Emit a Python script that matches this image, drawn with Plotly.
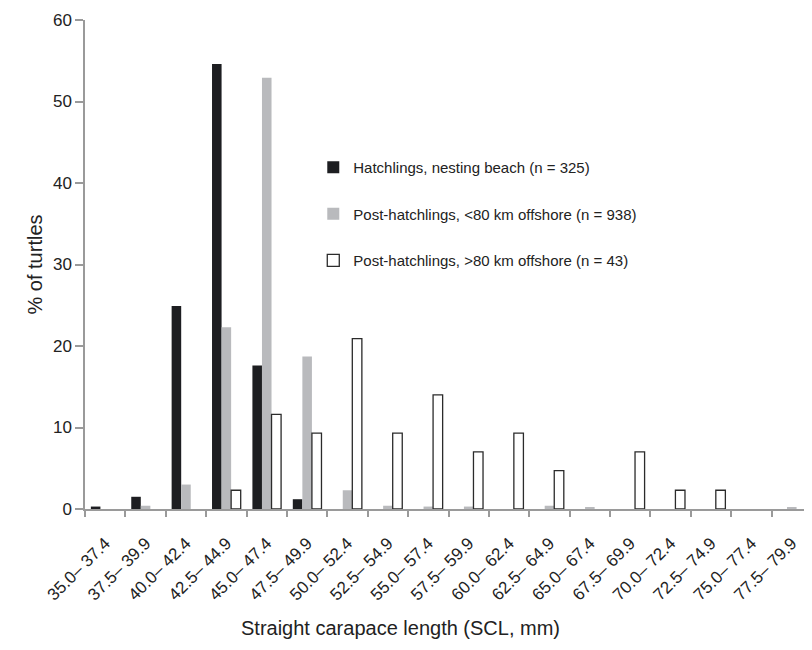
import plotly.graph_objects as go

categories = ["35.0– 37.4", "37.5– 39.9", "40.0– 42.4", "42.5– 44.9", "45.0– 47.4",
              "47.5– 49.9", "50.0– 52.4", "52.5– 54.9", "55.0– 57.4", "57.5– 59.9",
              "60.0– 62.4", "62.5– 64.9", "65.0– 67.4", "67.5– 69.9", "70.0– 72.4",
              "72.5– 74.9", "75.0– 77.4", "77.5– 79.9"]
hatchlings = [0.3, 1.5, 24.9, 54.6, 17.6, 1.2, 0, 0, 0, 0, 0, 0, 0, 0, 0, 0, 0, 0]
post_near = [0, 0.4, 3.0, 22.3, 52.9, 18.7, 2.3, 0.4, 0.3, 0.3, 0, 0.4, 0.2, 0, 0, 0, 0, 0.2]
post_far = [0, 0, 0, 2.3, 11.6, 9.3, 20.9, 9.3, 14.0, 7.0, 9.3, 4.7, 0, 7.0, 2.3, 2.3, 0, 0]

names = ["Hatchlings, nesting beach (n = 325)",
         "Post-hatchlings, <80 km offshore (n = 938)",
         "Post-hatchlings, >80 km offshore (n = 43)"]

FONT = "Liberation Sans, Arial, Helvetica, sans-serif"
AX = "#9a9a9a"


def nz(vals):
    return [v if v > 0 else None for v in vals]


fig = go.Figure()
fig.add_trace(go.Bar(x=categories, y=nz(hatchlings), name=names[0], legendgroup="a",
                     marker=dict(color="#1d1e21", line=dict(width=0))))
fig.add_trace(go.Bar(x=categories, y=nz(post_near), name=names[1], legendgroup="b",
                     marker=dict(color="#b9babd", line=dict(width=0))))
fig.add_trace(go.Bar(x=categories, y=nz(post_far), name=names[2], legendgroup="c",
                     marker=dict(color="white", line=dict(color="#2b2b2b", width=1.3))))

fig.update_layout(
    width=812, height=650,
    margin=dict(l=77, r=8, t=12, b=149, autoexpand=False),
    plot_bgcolor="white", paper_bgcolor="white",
    barmode="group", bargap=0.29, bargroupgap=0,
    font=dict(family=FONT, color="#222222", size=15),
    showlegend=True,
    legend=dict(x=0.314, y=0.732, xanchor="left", yanchor="top",
                bgcolor="rgba(0,0,0,0)", font=dict(size=15, color="#222222"),
                traceorder="grouped", tracegroupgap=24, itemwidth=30),
    xaxis=dict(showline=True, linecolor=AX, linewidth=1.5, ticks="outside",
               tickson="boundaries", ticklen=6, tickcolor=AX, tickwidth=1.5,
               tickangle=-45, tickfont=dict(size=17, color="#222222"),
               ticklabelstandoff=16, automargin=False,
               showgrid=False, zeroline=False),
    yaxis=dict(range=[0, 60], tickvals=[0, 10, 20, 30, 40, 50, 60],
               showline=True, linecolor=AX, linewidth=1.5, ticks="outside",
               ticklen=8, tickcolor=AX, tickwidth=1.5,
               tickfont=dict(size=17, color="#222222"), automargin=False,
               showgrid=False, zeroline=False,
               title=dict(text="% of turtles", font=dict(size=20, color="#222222"), standoff=5)),
    annotations=[dict(text="Straight carapace length (SCL, mm)", xref="paper", yref="paper",
                      x=(392 - 77) / 727, y=-0.243, xanchor="center", yanchor="middle",
                      showarrow=False, font=dict(size=20, color="#222222"))],
)

fig.write_html("out.html")
